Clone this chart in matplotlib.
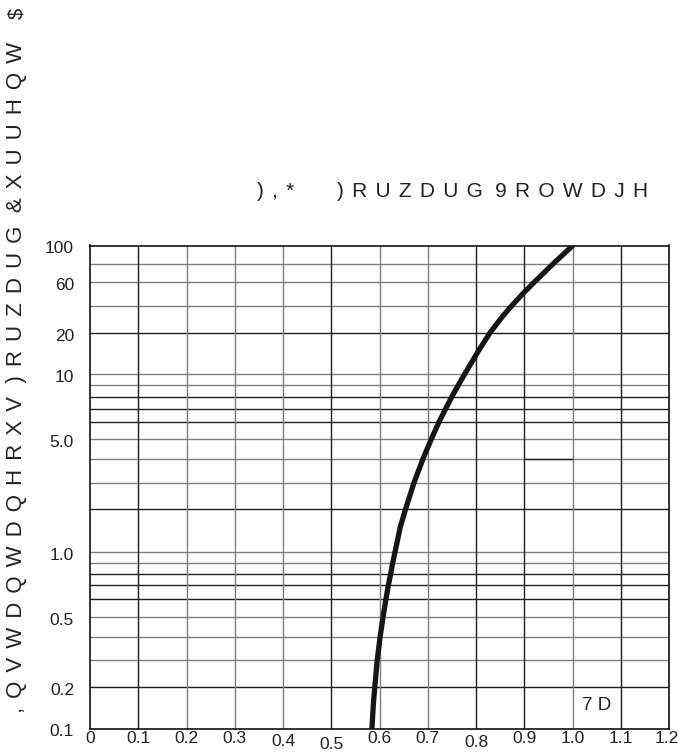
import numpy as np
import matplotlib
matplotlib.use("Agg")
import matplotlib.pyplot as plt
from matplotlib.transforms import ScaledTranslation
from matplotlib.ticker import FixedLocator, FixedFormatter, NullLocator

# ---------------- data ----------------
current = [0.1, 0.15, 0.2, 0.3, 0.4, 0.5, 0.6, 0.7, 0.8, 0.9, 1.0, 1.5, 2, 3, 4,
           5, 6, 7, 8, 9, 10, 15, 20, 30, 40, 50, 60, 80, 100]
voltage = [0.584, 0.587, 0.590, 0.595, 0.601, 0.607, 0.613, 0.618, 0.623, 0.627,
           0.632, 0.643, 0.654, 0.671, 0.690, 0.707, 0.723, 0.737, 0.749, 0.763,
           0.776, 0.806, 0.829, 0.854, 0.874, 0.899, 0.921, 0.960, 1.000]

x_ticks = [0, 0.1, 0.2, 0.3, 0.4, 0.5, 0.6, 0.7, 0.8, 0.9, 1.0, 1.1, 1.2]
x_tick_labels = ["0", "0.1", "0.2", "0.3", "0.4", "0.5", "0.6", "0.7", "0.8",
                 "0.9", "1.0", "1.1", "1.2"]
y_ticks = [0.1, 0.2, 0.5, 1.0, 5.0, 10, 20, 60, 100]
y_tick_labels = ["0.1", "0.2", "0.5", "1.0", "5.0", "10", "20", "60", "100"]

# grid values of the printed (non-uniform) log paper and their scale position
grid_values = [0.1, 0.2, 0.3, 0.4, 0.5, 0.6, 0.7, 0.8, 0.9, 1.0,
               2, 3, 4, 5, 6, 7, 8, 9, 10, 20, 40, 60, 80, 100]
grid_scale = [0.0, 41.8, 68.5, 91.8, 111.2, 129.2, 143.2, 154.8, 165.5, 176.8,
              219.8, 245.5, 269.8, 289.2, 306.5, 319.8, 331.2, 343.2, 354.2,
              395.8, 422.8, 446.5, 464.8, 482.8]
# darker printed grid fragment: (value, x from, x to)
dark_segments = [(4, 0.9, 1.0)]

TS = "\u2009\u2009"          # letter tracking
WS = "\u2009\u2009\u2009"    # word gap


def tracked(words):
    return WS.join(TS.join(w) for w in words)


title_prefix = tracked(["),*"])
title_main = tracked([")RUZDUG", "9ROWDJH"])
y_label = tracked([",QVWDQWDQHRXV", ")RUZDUG", "&XUUHQW"])
corner_mark = "$"
box_label = "7 D"

# ---------------- styles ----------------
dark_h = {0.2, 0.6, 0.7, 0.8, 2, 6, 7, 8, 20}
dark_v = {0.1, 0.5, 0.8, 0.9, 1.1}
x_label_drop = {0.4: 3, 0.5: 6, 0.8: 4}   # pixels down
x_label_shift = {1.2: -3}                  # pixels right
GRAY = "#7f7f7f"
DARK = "#1e1e1e"

# ---------------- scale ----------------
LV = np.log10(np.array(grid_values))
POS = np.array(grid_scale)
s_lo = (POS[1] - POS[0]) / (LV[1] - LV[0])
s_hi = (POS[-1] - POS[-2]) / (LV[-1] - LV[-2])


def fwd(y):
    y = np.asarray(y, dtype=float)
    ly = np.log10(np.clip(y, 1e-12, None))
    out = np.interp(ly, LV, POS)
    out = np.where(ly < LV[0], POS[0] + (ly - LV[0]) * s_lo, out)
    out = np.where(ly > LV[-1], POS[-1] + (ly - LV[-1]) * s_hi, out)
    return out


def inv(p):
    p = np.asarray(p, dtype=float)
    ly = np.interp(p, POS, LV)
    ly = np.where(p < POS[0], LV[0] + (p - POS[0]) / s_lo, ly)
    ly = np.where(p > POS[-1], LV[-1] + (p - POS[-1]) / s_hi, ly)
    return 10 ** ly


W, H = 679, 754
fig = plt.figure(figsize=(W / 100, H / 100), dpi=100)
fig.patch.set_facecolor("white")

left, right, top, bottom = 90, 669.3, 245.5, 728.5
ax = fig.add_axes([left / W, 1 - bottom / H, (right - left) / W, (bottom - top) / H])
ax.set_yscale("function", functions=(fwd, inv))
ax.set_xlim(0, 1.2)
ax.set_ylim(0.1, 100)

for v in grid_values[1:-1]:
    ax.axhline(v, color=DARK if v in dark_h else GRAY, lw=1.0, zorder=1)
for xv in x_ticks[1:-1]:
    ax.axvline(xv, color=DARK if round(xv, 1) in dark_v else GRAY, lw=1.0, zorder=1)
for v, x0, x1 in dark_segments:
    ax.hlines(v, x0, x1, color=DARK, lw=1.0, zorder=1.5)

ax.plot(voltage, current, color="#151515", lw=3.8, solid_capstyle="round",
        solid_joinstyle="round", zorder=3)

for s in ax.spines.values():
    s.set_color("#111111")
    s.set_linewidth(1.2)

tick_font = ["Liberation Sans Narrow", "Liberation Sans", "DejaVu Sans"]
ax.xaxis.set_major_locator(FixedLocator(x_ticks))
ax.xaxis.set_major_formatter(FixedFormatter(x_tick_labels))
ax.yaxis.set_major_locator(FixedLocator(y_ticks))
ax.yaxis.set_major_formatter(FixedFormatter(y_tick_labels))
ax.yaxis.set_minor_locator(NullLocator())
ax.xaxis.set_minor_locator(NullLocator())
ax.tick_params(axis="both", length=0, labelsize=12.5, labelcolor="#222222")
ax.tick_params(axis="x", pad=1.5)
ax.tick_params(axis="y", pad=11.5)
for lbl in ax.get_xticklabels() + ax.get_yticklabels():
    lbl.set_family(tick_font)

for lbl, xv in zip(ax.get_xticklabels(), x_ticks):
    d = x_label_drop.get(round(xv, 1), 0)
    sx = x_label_shift.get(round(xv, 1), 0)
    if d or sx:
        lbl.set_transform(lbl.get_transform() +
                          ScaledTranslation(sx / 100, -d / 100, fig.dpi_scale_trans))
for lbl in ax.get_yticklabels():
    lbl.set_transform(lbl.get_transform() +
                      ScaledTranslation(0, -2 / 100, fig.dpi_scale_trans))

txt_font = ["Liberation Sans", "DejaVu Sans"]
ty = 1 - 191.7 / H
fig.text(257 / W, ty, title_prefix, ha="left", va="center", fontsize=15,
         family=txt_font, color="#222222")
fig.text(337 / W, ty, title_main, ha="left", va="center", fontsize=15,
         family=txt_font, color="#222222")

fig.text(17 / W, 1 - 377 / H, y_label, rotation=90, ha="center", va="center",
         fontsize=16, family=txt_font, color="#222222")
fig.text(17 / W, 1 - 13 / H, corner_mark, rotation=90, ha="center", va="center",
         fontsize=14.5, family=txt_font, color="#222222")

ax.text(1.05, 0.147, box_label, ha="center", va="center", fontsize=13.5,
        family=txt_font, color="#222222", zorder=4)

fig.savefig("out.png", dpi=100, facecolor="white")
